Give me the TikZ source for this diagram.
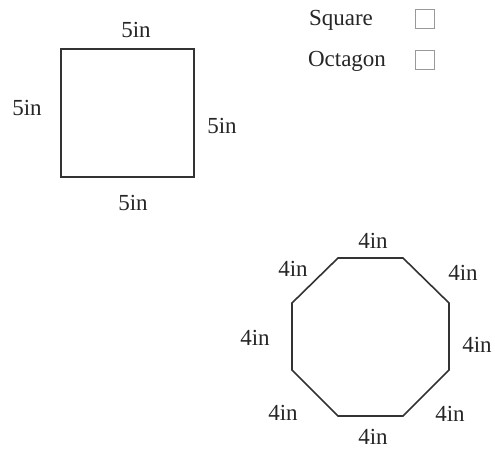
\documentclass[tikz,border=0pt]{standalone}
\usepackage{fontspec}
\setmainfont{Liberation Serif}
\begin{document}
\begin{tikzpicture}[x=1pt,y=-1pt,
  lbl/.style={font=\fontsize{23}{26}\selectfont, inner sep=0pt, text=black!85},
  shapeline/.style={draw=black!80, line width=1.6pt, line join=miter},
  checkbox/.style={draw=black!40, line width=1pt, minimum width=19pt, minimum height=19pt, inner sep=0pt}]
\useasboundingbox (0,0) rectangle (495,450);
% legend
\node[lbl] (lsq) at (341,20) {Square};
\node[lbl] (loc) at (347,61) {Octagon};
\node[checkbox] (bsq) at (425,19) {};
\node[checkbox] (boc) at (425,60) {};
% square
\coordinate (s1) at (61,49);
\coordinate (s2) at (194,49);
\coordinate (s3) at (194,177);
\coordinate (s4) at (61,177);
\draw[shapeline] (s1) -- (s2) -- (s3) -- (s4) -- cycle;
\node[lbl] (st) at (136,30) {5in};
\node[lbl] (sl) at (27,108) {5in};
\node[lbl] (sr) at (222,126) {5in};
\node[lbl] (sb) at (133,203) {5in};
% octagon
\coordinate (o1) at (338,258);
\coordinate (o2) at (403,258);
\coordinate (o3) at (449,303);
\coordinate (o4) at (449,370);
\coordinate (o5) at (403,416);
\coordinate (o6) at (338,416);
\coordinate (o7) at (292,370);
\coordinate (o8) at (292,303);
\draw[shapeline] (o1) -- (o2) -- (o3) -- (o4) -- (o5) -- (o6) -- (o7) -- (o8) -- cycle;
\node[lbl] (ot) at (373,241) {4in};
\node[lbl] (otl) at (293,269) {4in};
\node[lbl] (otr) at (463,273) {4in};
\node[lbl] (ol) at (255,338) {4in};
\node[lbl] (or) at (477,345) {4in};
\node[lbl] (obl) at (283,413) {4in};
\node[lbl] (obr) at (450,414) {4in};
\node[lbl] (ob) at (373,437) {4in};
\end{tikzpicture}
\end{document}
